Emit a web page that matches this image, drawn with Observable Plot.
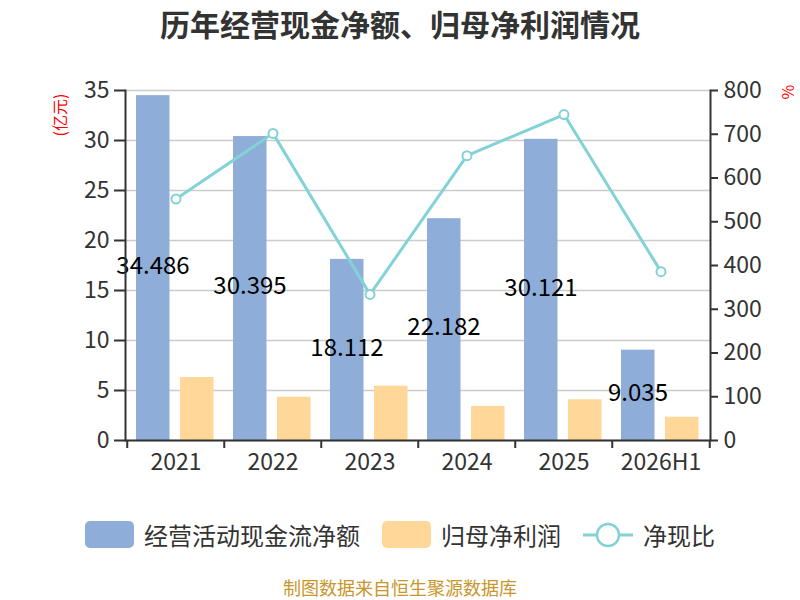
<!DOCTYPE html>
<html>
<head>
<meta charset="utf-8">
<script src="https://cdn.jsdelivr.net/npm/d3@7"></script>
<script src="https://cdn.jsdelivr.net/npm/@observablehq/plot@0.6"></script>
<style>
  body { margin: 0; background: #fff; font-family: "Noto Sans CJK SC", "Noto Sans", sans-serif; }
  #wrap { position: relative; width: 800px; height: 600px; overflow: hidden; }
  #chart { position: absolute; left: 0; top: 0; }
  .title { position: absolute; left: 0; width: 800px; top: 3px; line-height: 40px; text-align: center; font-size: 30px; font-weight: bold; color: #333; }
  .ylab { position: absolute; color: #ff0000; font-size: 16px; line-height: 20px; transform: rotate(-90deg); transform-origin: center; white-space: nowrap; }
  .legend { position: absolute; left: 0; width: 800px; top: 517px; display: flex; justify-content: center; align-items: center; font-size: 24px; color: #333; }
  .item { display: flex; align-items: center; margin: 0 11px; }
  .sw { width: 49px; height: 27px; border-radius: 5px; margin-right: 10px; }
  .caption { position: absolute; left: 0; width: 800px; top: 577px; line-height: 20px; text-align: center; font-size: 18px; color: #c8962a; }
</style>
</head>
<body>
<div id="wrap">
  <div class="title">历年经营现金净额、归母净利润情况</div>
  <div id="chart"></div>
  <div class="ylab" style="left:38px; top:105px;">(亿元)</div>
  <div class="ylab" style="left:780px; top:82px;">%</div>
  <div class="legend" id="legend"></div>
  <div class="caption">制图数据来自恒生聚源数据库</div>
</div>
<script>
const categories = ["2021", "2022", "2023", "2024", "2025", "2026H1"];
const cashFlow = [34.486, 30.395, 18.112, 22.182, 30.121, 9.035];
const netProfit = [6.3, 4.33, 5.43, 3.4, 4.07, 2.33];
const cashRatio = [552, 702, 334, 651, 745, 386];
const leftTicks = [0, 5, 10, 15, 20, 25, 30, 35];
const rightTicks = [0, 100, 200, 300, 400, 500, 600, 700, 800];
const seriesNames = ["经营活动现金流净额", "归母净利润", "净现比"];

const colors = { cash: "#8eaed9", profit: "#ffd899", ratio: "#83d2d6" };
const leftMax = 35, rightMax = 800;
const toLeft = v => v * leftMax / rightMax;

const data = categories.map((c, i) => ({ cat: c, cash: cashFlow[i], profit: netProfit[i], ratio: cashRatio[i] }));

const font = "Noto Sans CJK SC, Noto Sans, sans-serif";
const half = 585 / categories.length / 2;

const chart = Plot.plot({
  width: 800,
  height: 600,
  marginLeft: 125,
  marginRight: 90,
  marginTop: 90,
  marginBottom: 160,
  style: { fontFamily: font, background: "transparent" },
  x: { domain: categories, padding: 0, axis: null, label: null },
  y: { domain: [0, leftMax], axis: null, label: null },
  marks: [
    Plot.gridY(leftTicks, { stroke: "#cccccc", strokeOpacity: 1, strokeWidth: 1.5 }),
    Plot.barY(data, { x: "cat", y: "cash", fill: colors.cash, insetLeft: 9, insetRight: 54.5 }),
    Plot.barY(data, { x: "cat", y: "profit", fill: colors.profit, insetLeft: 53, insetRight: 10.5 }),
    Plot.line(data, { x: "cat", y: d => toLeft(d.ratio), stroke: colors.ratio, strokeWidth: 3 }),
    Plot.dot(data, { x: "cat", y: d => toLeft(d.ratio), r: 4.5, fill: "white", stroke: colors.ratio, strokeWidth: 2 }),
    Plot.text(data, { x: "cat", y: d => d.cash / 2, text: d => d.cash.toFixed(3), dx: -23, dy: -2, fontSize: 24, fill: "#000" }),
    Plot.ruleY([0], { stroke: "#333", strokeWidth: 2 }),
    Plot.frame({ anchor: "left", stroke: "#333", strokeWidth: 2 }),
    Plot.frame({ anchor: "right", stroke: "#333", strokeWidth: 2 }),
    Plot.axisY(leftTicks, { anchor: "left", label: null, tickSize: 11, tickPadding: 5, fontSize: 23, color: "#333", strokeWidth: 2 }),
    Plot.axisY(rightTicks.map(toLeft), { anchor: "right", label: null, tickSize: 7, tickPadding: 6, fontSize: 23, color: "#333", strokeWidth: 2, tickFormat: d => Math.round(d * rightMax / leftMax) }),
    Plot.axisX({ label: null, tickSize: 0, tickPadding: 13, fontSize: 23, color: "#333" }),
    Plot.axisX(categories, { label: null, tickSize: 8, dx: -half, tickFormat: () => "", color: "#333", strokeWidth: 2 }),
    Plot.axisX([categories[categories.length - 1]], { label: null, tickSize: 8, dx: half, tickFormat: () => "", color: "#333", strokeWidth: 2 })
  ]
});
document.getElementById("chart").appendChild(chart);

// legend
const legend = document.getElementById("legend");
const swColors = [colors.cash, colors.profit];
seriesNames.forEach((name, i) => {
  const item = document.createElement("div");
  item.className = "item";
  if (i < 2) {
    const sw = document.createElement("div");
    sw.className = "sw";
    sw.style.background = swColors[i];
    item.appendChild(sw);
  } else {
    const ns = "http://www.w3.org/2000/svg";
    const svg = document.createElementNS(ns, "svg");
    svg.setAttribute("width", 50); svg.setAttribute("height", 30);
    svg.style.marginRight = "10px";
    const ln = document.createElementNS(ns, "line");
    ln.setAttribute("x1", 0); ln.setAttribute("x2", 50); ln.setAttribute("y1", 15); ln.setAttribute("y2", 15);
    ln.setAttribute("stroke", colors.ratio); ln.setAttribute("stroke-width", 3);
    const c = document.createElementNS(ns, "circle");
    c.setAttribute("cx", 25); c.setAttribute("cy", 15); c.setAttribute("r", 11);
    c.setAttribute("fill", "white"); c.setAttribute("stroke", colors.ratio); c.setAttribute("stroke-width", 2.5);
    svg.appendChild(ln); svg.appendChild(c);
    item.appendChild(svg);
  }
  const t = document.createElement("span");
  t.textContent = name;
  item.appendChild(t);
  legend.appendChild(item);
});
</script>
</body>
</html>
